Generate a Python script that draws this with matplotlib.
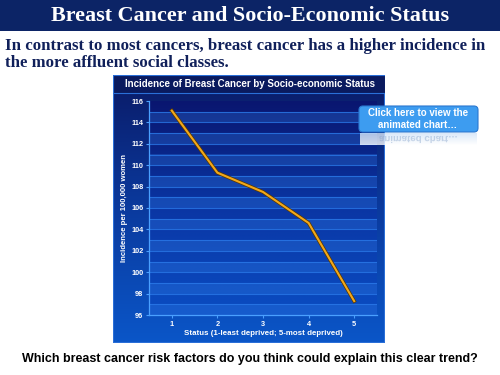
import numpy as np
import matplotlib
matplotlib.use("Agg")
import matplotlib.pyplot as plt
from matplotlib.patches import FancyBboxPatch, Rectangle, PathPatch
from matplotlib.colors import LinearSegmentedColormap
from matplotlib.textpath import TextPath
from matplotlib.font_manager import FontProperties
from matplotlib.transforms import Affine2D

status = [1, 2, 3, 4, 5]
incidence = [115.1, 109.3, 107.5, 104.6, 97.3]
yticks = [96, 98, 100, 102, 104, 106, 108, 110, 112, 114, 116]

W, H = 500, 375
fig = plt.figure(figsize=(5, 3.75), dpi=100)
fig.patch.set_facecolor("white")
renderer = fig.canvas.get_renderer()

def fx(x): return x / W
def fy(y): return 1 - y / H

def fit(t, width_px):
    bb = t.get_window_extent(renderer=renderer)
    t.set_fontsize(t.get_fontsize() * width_px / bb.width)

# header band
fig.patches.append(Rectangle((0, fy(31)), 1, 31 / H, transform=fig.transFigure,
                             facecolor="#0c2466", edgecolor="none", zorder=0))
t = fig.text(0.5, fy(16), "Breast Cancer and Socio-Economic Status", ha="center", va="center",
             color="white", fontsize=16, fontweight="bold", family="Liberation Serif")
fit(t, 400)
t1 = fig.text(fx(5), fy(46), "In contrast to most cancers, breast cancer has a higher incidence in",
              ha="left", va="center", color="#10205a", fontsize=12, fontweight="bold",
              family="Liberation Serif")
fit(t1, 476)
fig.text(fx(5), fy(63), "the more affluent social classes.",
         ha="left", va="center", color="#10205a", fontsize=t1.get_fontsize(), fontweight="bold",
         family="Liberation Serif")

# panel background
pl, pr, pt, pb = 113, 385, 75, 343
pax = fig.add_axes([fx(pl), fy(pb), (pr - pl) / W, (pb - pt) / H])
pax.set_axis_off()
cmap = LinearSegmentedColormap.from_list("bg", ["#0a1a66", "#0a3a9e", "#0b56c8"])
grad = np.linspace(0, 1, 256).reshape(-1, 1)
pax.imshow(grad, aspect="auto", cmap=cmap, extent=[0, 1, 0, 1], origin="upper")
pax.add_patch(Rectangle((0, 0), 1, 1, transform=pax.transAxes, fill=False,
                        edgecolor="#2a6fd8", lw=1.5))
pax.set_xlim(0, 1); pax.set_ylim(0, 1)
tb = (93 - 75) / (pb - pt)
pax.add_patch(Rectangle((0, 1 - tb), 1, tb, transform=pax.transAxes,
                        facecolor="#0a1a5e", edgecolor="#2a6fd8", lw=0.8))
t = fig.text(fx(250), fy(84), "Incidence of Breast Cancer by Socio-economic Status",
             ha="center", va="center", color="white", fontsize=7, fontweight="bold",
             family="Liberation Sans")
fit(t, 251)

# plot area
ax = fig.add_axes([fx(149), fy(315), (377 - 149) / W, (315 - 101) / H])
ax.set_xlim(0.5, 5.5)
ax.set_ylim(96, 116)
ax.imshow(grad, aspect="auto", cmap=LinearSegmentedColormap.from_list(
    "pb", ["#091670", "#0a36a4", "#0a4cc2"]), extent=[0.5, 5.5, 96, 116],
    origin="upper", zorder=0)
for k in range(96, 116):
    if k % 2 == 0:
        ax.axhspan(k, k + 1, color="#3a8cf0", alpha=0.25, lw=0, zorder=1)
for k in range(97, 116):
    ax.axhline(k, color="#2a78e8", lw=0.8, alpha=0.8, zorder=1)
ax.plot(status, incidence, color="#5a3a00", lw=2.6, zorder=3, solid_joinstyle="miter")
ax.plot(status, incidence, color="#f2a81c", lw=1.5, zorder=4, solid_joinstyle="miter")
ax.set_xticks(status)
ax.set_yticks(yticks)
ax.tick_params(colors="white", labelsize=5.3, length=2, width=0.8, pad=2)
for lab in ax.get_xticklabels() + ax.get_yticklabels():
    lab.set_fontweight("bold")
    lab.set_family("Liberation Sans")
for s in ["top", "right"]:
    ax.spines[s].set_visible(False)
for s in ["left", "bottom"]:
    ax.spines[s].set_color("#4aa0ff")
    ax.spines[s].set_linewidth(0.9)
ax.tick_params(axis="both", color="#4aa0ff")
ax.set_xlabel("Status (1-least deprived; 5-most deprived)", color="white", fontsize=5.7,
              fontweight="bold", family="Liberation Sans", labelpad=2)
ax.set_ylabel("Incidence per 100,000 women", color="white", fontsize=5.6,
              fontweight="bold", family="Liberation Sans", labelpad=2)

# button
bax = fig.add_axes([0, 0, 1, 1], facecolor="none")
bax.set_axis_off()
bax.set_xlim(0, W); bax.set_ylim(H, 0)
bax.imshow(np.linspace(0, 1, 64).reshape(-1, 1), aspect="auto",
           cmap=LinearSegmentedColormap.from_list("rf", ["#d2e4f8", "#ffffff"]),
           extent=[360, 477, 145, 133], zorder=4, alpha=0.8)
fp = FontProperties(family="Liberation Sans", weight="bold")
tp = TextPath((0, 0), "animated chart\u2026", size=7.0, prop=fp)
ext = tp.get_extents()
sc = 100 / 72
tr = Affine2D().translate(-(ext.x0 + ext.x1) / 2, 0).scale(sc).translate(418, 136) + bax.transData
bax.add_patch(PathPatch(tp, transform=tr, facecolor="#8aa6cc", edgecolor="none",
                        alpha=0.45, zorder=4.5))
bax.add_patch(FancyBboxPatch((359, 106), 119, 26, boxstyle="round,pad=0,rounding_size=4",
                             facecolor="#3d9cf0", edgecolor="#2b78d0", lw=0.8, zorder=5))
bax.text(418, 113, "Click here to view the", ha="center", va="center", color="white",
         fontsize=7.0, fontweight="bold", family="Liberation Sans", zorder=6)
bax.text(418, 125, "animated chart\u2026", ha="center", va="center", color="white",
         fontsize=7.0, fontweight="bold", family="Liberation Sans", zorder=6)
bax.set_xlim(0, W); bax.set_ylim(H, 0)

t = fig.text(0.5, fy(359), "Which breast cancer risk factors do you think could explain this clear trend?",
             ha="center", va="center", color="black", fontsize=9, fontweight="bold",
             family="Liberation Sans")
fit(t, 456)

fig.savefig("out.png", dpi=100)
